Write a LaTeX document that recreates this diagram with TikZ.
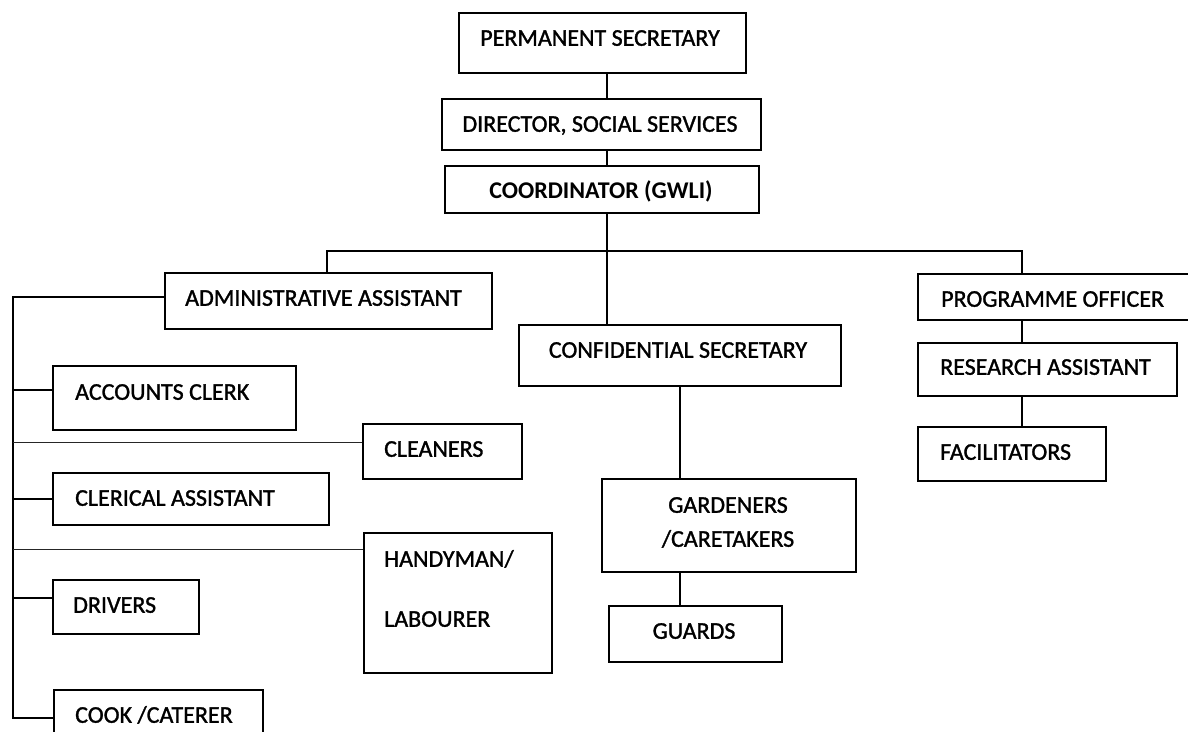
\documentclass[tikz,border=0pt]{standalone}
\usepackage{fontspec}
\setmainfont{Carlito}
\newfontfamily\orgfam{Carlito}[FakeBold=1.3]
\newcommand\orgfont{\orgfam\fontsize{24}{28}\selectfont}
\newcommand\orgbold{\fontsize{24}{28}\selectfont\bfseries}
\begin{document}
\begin{tikzpicture}[x=1pt,y=-1pt,
  orgbox/.style={draw, line width=1.8pt, anchor=north west, inner sep=0pt},
  lbl/.style={inner sep=0pt, font=\orgfont, text height=15.5pt, text depth=0pt},
  link/.style={line width=1.6pt},
  thinlink/.style={line width=0.8pt, black!85},
]
\useasboundingbox (0,0) rectangle (1188,731);
\clip (0,0) rectangle (1188,731);

% ---- boxes ----
\node[orgbox, minimum width=287pt, minimum height=60pt] (ps) at (458,12) {};
\node[orgbox, minimum width=319pt, minimum height=51pt] (ds) at (441,98) {};
\node[orgbox, minimum width=314pt, minimum height=47pt] (co) at (444,165) {};
\node[orgbox, minimum width=327pt, minimum height=56pt] (aa) at (164,272) {};
\node[orgbox, minimum width=280pt, minimum height=46pt] (po) at (917,273) {};
\node[orgbox, minimum width=322pt, minimum height=61pt] (cs) at (518,324) {};
\node[orgbox, minimum width=259pt, minimum height=53pt] (ra) at (917,342) {};
\node[orgbox, minimum width=188pt, minimum height=54pt] (fa) at (917,426) {};
\node[orgbox, minimum width=243pt, minimum height=64pt] (ac) at (52,365) {};
\node[orgbox, minimum width=159pt, minimum height=55pt] (cl) at (362,423) {};
\node[orgbox, minimum width=276pt, minimum height=52pt] (ca) at (52,472) {};
\node[orgbox, minimum width=254pt, minimum height=93pt] (ga) at (601,478) {};
\node[orgbox, minimum width=188pt, minimum height=140pt] (hl) at (363,532) {};
\node[orgbox, minimum width=146pt, minimum height=54pt] (dr) at (52,579) {};
\node[orgbox, minimum width=173pt, minimum height=56pt] (gu) at (608,605) {};
\node[orgbox, minimum width=209pt, minimum height=56pt] (ck) at (53,689) {};

% ---- titles ----
\node[lbl] (pst) at (600,38) {PERMANENT SECRETARY};
\node[lbl] (dst) at (600,124) {DIRECTOR, SOCIAL SERVICES};
\node[lbl, font=\orgbold] (cot) at (601,191) {COORDINATOR (GWLI)};
\node[lbl, anchor=west] (aat) at (185,298) {ADMINISTRATIVE ASSISTANT};
\node[lbl, anchor=west] (pot) at (941,299) {PROGRAMME OFFICER};
\node[lbl] (cst) at (678,350) {CONFIDENTIAL SECRETARY};
\node[lbl, anchor=west] (rat) at (940,367) {RESEARCH ASSISTANT};
\node[lbl, anchor=west] (fat) at (940,452) {FACILITATORS};
\node[lbl, anchor=west] (act) at (75,392) {ACCOUNTS CLERK};
\node[lbl, anchor=west] (clt) at (384,449) {CLEANERS};
\node[lbl, anchor=west] (cat) at (75,498) {CLERICAL ASSISTANT};
\node[lbl] (ga1) at (728,505) {GARDENERS};
\node[lbl] (ga2) at (728,539) {/CARETAKERS};
\node[lbl, anchor=west] (hl1) at (384,559) {HANDYMAN/};
\node[lbl, anchor=west] (hl2) at (384,619) {LABOURER};
\node[lbl, anchor=west] (drt) at (73,605) {DRIVERS};
\node[lbl] (gut) at (694,631) {GUARDS};
\node[lbl, anchor=west] (ckt) at (75,715) {COOK /CATERER};

% ---- reporting lines ----
\coordinate (spine) at (607,0);
\coordinate (busL) at (327,251);
\coordinate (busR) at (1022,251);
\coordinate (trunk) at (13,297);
\coordinate (acin) at ([yshift=8pt]ac.west);
\coordinate (drin) at ([yshift=9pt]dr.west);
\coordinate (clin) at ([yshift=9pt]cl.west);
\coordinate (hlin) at ([yshift=-17pt]hl.north west);

\draw[link] (ps.south -| spine) -- (ds.north -| spine);
\draw[link] (ds.south -| spine) -- (co.north -| spine);
\draw[link] (co.south -| spine) -- (cs.north -| spine);
\draw[link] (aa.north -| busL) -- (busL) -- (busR) -- (po.north -| busR);
\draw[link] (po.south -| busR) -- (ra.north -| busR);
\draw[link] (ra.south -| busR) -- (fa.north -| busR);
\draw[link] (cs.south) -- (cs.south |- ga.north);
\draw[link] (ga.south -| cs.south) -- (gu.north -| cs.south);

% administrative branch
\draw[link] (trunk -| aa.west) -- (trunk) |- (ck.west);
\draw[link] (trunk |- acin) -- (acin);
\draw[link] (trunk |- ca.west) -- (ca.west);
\draw[link] (trunk |- drin) -- (drin);
\draw[thinlink] (trunk |- clin) -- (clin);
\draw[thinlink] (trunk |- hlin) -- (hlin);
\end{tikzpicture}
\end{document}
